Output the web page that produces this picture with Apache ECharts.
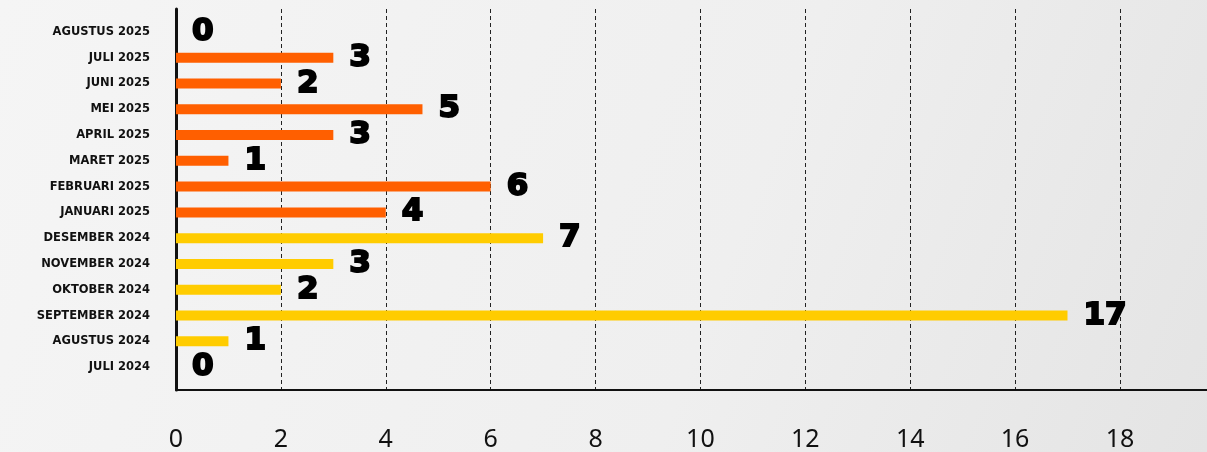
<!DOCTYPE html>
<html>
<head>
<meta charset="utf-8">
<script src="https://cdn.jsdelivr.net/npm/echarts@6/dist/echarts.min.js"></script>
<style>html,body{margin:0;padding:0;}#c{width:1207px;height:452px;}</style>
</head>
<body>
<div id="c"></div>
<script>
const categories = ['JULI 2024','AGUSTUS 2024','SEPTEMBER 2024','OKTOBER 2024','NOVEMBER 2024','DESEMBER 2024','JANUARI 2025','FEBRUARI 2025','MARET 2025','APRIL 2025','MEI 2025','JUNI 2025','JULI 2025','AGUSTUS 2025'];
const values = [0, 1, 17, 2, 3, 7, 4, 6, 1, 3, 4.7, 2, 3, 0];
const xTicks = [0, 2, 4, 6, 8, 10, 12, 14, 16, 18];
const xMax = 19.66;

const chart = echarts.init(document.getElementById('c'));
chart.setOption({
  backgroundColor: {
    type: 'linear', x: 0, y: 0, x2: 1, y2: 1,
    colorStops: [{offset: 0, color: '#f5f5f5'}, {offset: 0.6, color: '#efefef'}, {offset: 1, color: '#e4e4e4'}]
  },
  animation: false,
  grid: [
    {left: 176, right: 0, top: 19, bottom: 72},
    {left: 176, right: 0, top: 9, bottom: 62}
  ],
  xAxis: [
    {gridIndex: 0, type: 'value', min: 0, max: xMax, interval: 2, show: false},
    {gridIndex: 1, type: 'value', min: 0, max: xMax, interval: 2,
     axisLine: {show: true, lineStyle: {color: '#111', width: 2}},
     axisTick: {show: false},
     splitLine: {show: true, lineStyle: {color: '#222', type: [4, 3], width: 1}},
     axisLabel: {margin: 37, color: '#111', fontSize: 25, fontFamily: 'Noto Sans', showMaxLabel: false,
       formatter: v => xTicks.indexOf(v) >= 0 ? String(v) : ''}
    }
  ],
  yAxis: [
    {gridIndex: 0, type: 'category', data: categories,
     axisLine: {show: false}, axisTick: {show: false}, splitLine: {show: false},
     axisLabel: {margin: 26, color: '#111', fontSize: 11.5, fontWeight: 'bold', fontFamily: 'DejaVu Sans'}
    },
    {gridIndex: 1, type: 'value', min: 0, max: 1,
     axisLine: {show: true, lineStyle: {color: '#111', width: 3}},
     axisTick: {show: false}, axisLabel: {show: false}, splitLine: {show: false}
    }
  ],
  series: [{
    type: 'bar',
    xAxisIndex: 0, yAxisIndex: 0,
    data: values,
    barWidth: 10,
    itemStyle: {
      color: p => categories[p.dataIndex].indexOf('2025') >= 0 ? '#ff5f00' : '#ffcc00'
    },
    label: {
      show: true, position: 'right', distance: 16,
      color: '#000', fontSize: 31, fontWeight: 'bold', fontFamily: 'DejaVu Sans',
      textBorderColor: '#000', textBorderWidth: 2,
      formatter: p => String(Math.round(p.value))
    }
  }]
});
</script>
</body>
</html>
